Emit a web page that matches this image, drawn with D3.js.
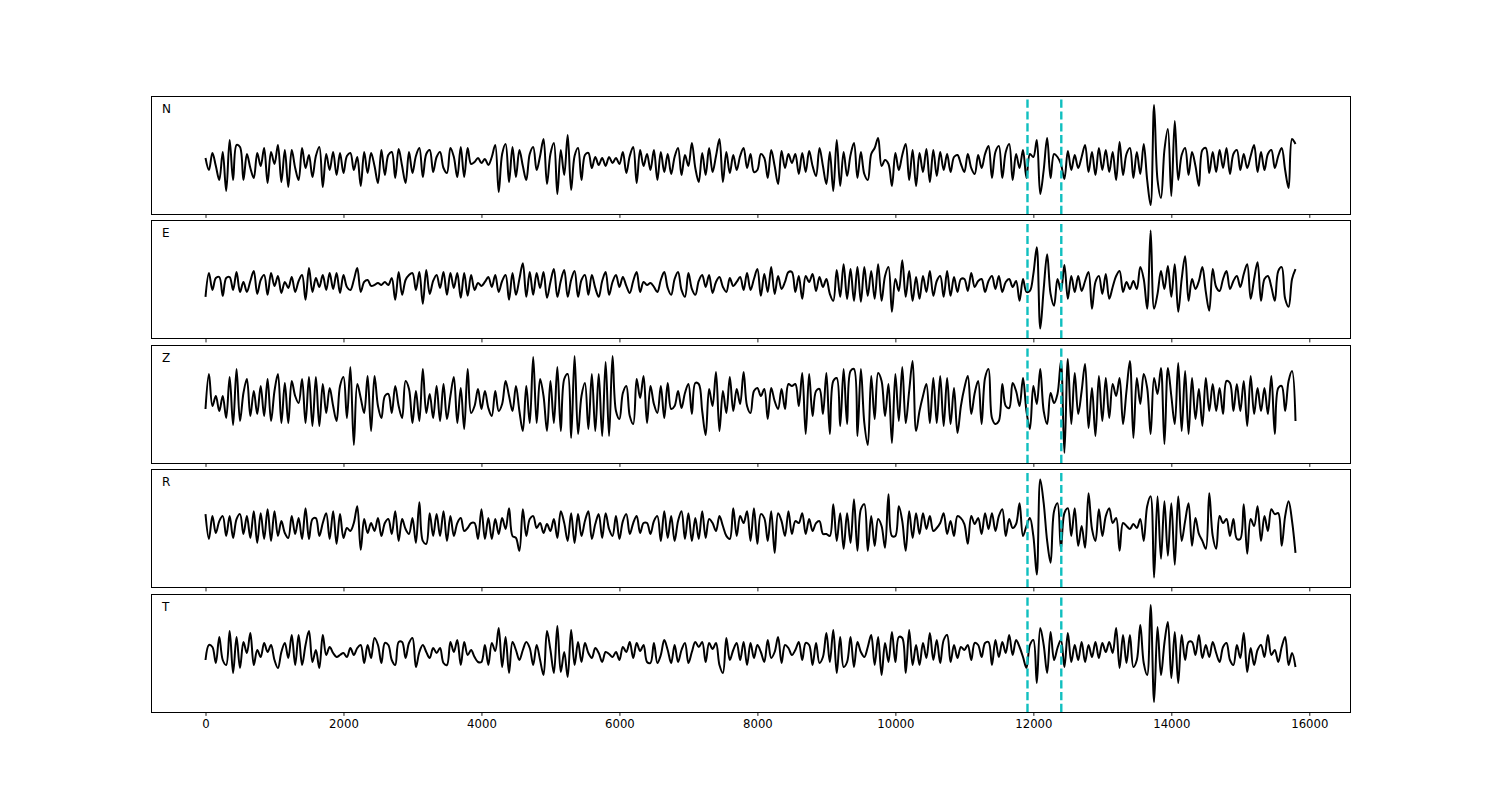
<!DOCTYPE html>
<html><head><meta charset="utf-8">
<script src="https://cdn.jsdelivr.net/npm/d3@7"></script>
<style>body{margin:0;background:#fff}svg{display:block}</style>
</head><body><svg id="chart" width="1500" height="800"></svg>
<script>
// ---- data (amplitudes, one sample every 50 points) ----
const sampleStep = 50;
const channels = ["N", "E", "Z", "R", "T"];
const traceN = [
2,-10,7,-6,-20,8,-31,20,-20,15,
13,-20,6,-8,-18,7,-6,12,-23,8,
-4,15,-22,10,-27,10,-8,-20,12,-8,
5,-17,4,13,-27,6,-10,8,-15,7,
-13,4,7,-10,3,-26,8,-13,7,-6,
-23,10,-15,5,8,-18,11,-6,-23,8,
-13,4,12,-17,6,10,-12,3,8,-8,
-13,12,3,-17,13,-17,12,-4,-2,2,
-3,1,-5,3,15,-32,6,16,-22,13,
-17,10,-6,-20,6,13,-10,4,21,-24,
6,17,-34,10,-15,25,-30,4,12,-20,
5,7,-8,3,-5,2,-6,3,-3,2,
-4,8,-13,4,13,-23,10,-6,6,-10,
10,-20,8,-12,6,-14,3,12,-15,5,
-6,17,-8,-22,7,-15,12,-12,4,21,
-22,8,-13,5,-10,4,12,-8,6,-12,
-10,6,2,-18,10,-6,-24,9,-8,6,
-3,6,-14,7,-12,9,-6,-16,12,-6,
-24,8,-31,20,-26,8,-16,5,17,-18,
8,-14,-20,6,12,22,-6,0,-4,-26,
7,-10,5,16,-20,10,-26,7,-12,11,
-22,10,-16,8,-10,6,-12,3,5,-4,
-12,6,-8,-14,5,-8,6,14,-18,8,
14,-18,8,16,-20,6,-8,10,-18,6,
3,20,-34,-10,22,-18,6,3,-4,-19,
9,-10,5,-8,3,15,-12,8,-15,12,
-10,10,-12,8,-20,18,-15,6,12,-18,
8,-14,16,-20,-45,55,-20,-38,10,31,
-36,39,-20,5,12,-15,8,-6,-26,10,
12,-13,8,-12,10,-8,12,-14,6,10,
-10,6,-8,4,15,-12,8,-10,6,10,
-8,4,12,-10,-28,21,16];
const traceE = [
-13,11,-6,6,7,-12,6,7,-6,12,
-8,2,-8,3,13,-10,4,9,-11,11,
-2,8,-9,2,-4,7,-8,3,9,-16,
16,-8,6,-3,9,-6,11,-5,11,-9,
9,-3,-6,4,16,-8,2,4,-2,-1,
1,-1,2,-1,6,-16,12,-11,4,9,
11,-6,12,-20,14,-10,3,9,-4,12,
-11,11,-4,11,-14,11,-12,9,-6,1,
-2,2,7,-3,9,-8,3,9,-16,11,
-11,5,21,-13,12,-11,11,-4,12,-14,
2,15,-13,3,14,-13,4,13,-13,4,
9,-11,9,-4,-13,3,12,-11,2,9,
-3,7,-2,-9,3,12,-8,2,-1,1,
-3,-8,4,12,-4,-11,5,12,-6,-13,
11,-5,-11,3,9,-3,9,-9,2,7,
-3,-8,6,-2,2,7,-6,11,-6,5,
15,-12,10,-8,17,-10,8,-5,2,12,
12,-8,8,-15,8,2,10,-7,7,-3,
5,-10,-17,14,-13,20,-15,15,-17,17,
-18,17,-12,13,-15,20,-17,8,17,-28,
5,-7,24,-13,13,-17,7,-15,8,-8,
13,-12,3,8,-13,13,-12,7,-8,5,
5,-7,11,-3,3,5,-8,3,8,-5,
8,-8,2,5,-3,3,-17,5,-8,-7,
10,37,-45,-5,30,-10,-22,5,-7,19,
-15,8,-8,8,-7,3,12,-25,2,8,
-10,10,-15,-3,8,13,-8,2,-5,3,
-5,17,5,-25,54,-25,-10,13,-5,18,
-13,20,-28,5,28,-17,5,-5,3,17,
-8,-27,15,-3,-7,5,13,-5,3,8,
-3,10,20,-15,5,22,-17,5,8,-3,
-17,13,17,-15,-23,5,15];
const traceZ = [
-8,27,-5,5,-10,5,-17,24,-24,32,
-20,8,22,-15,10,-13,15,-15,22,-20,
10,27,-22,18,-22,20,5,-2,22,-22,
24,-25,24,-25,17,-12,13,-5,-20,15,
24,-17,34,-44,17,3,-12,25,-30,25,
-5,-17,5,7,-12,15,-5,-17,20,12,
-22,10,-20,32,-12,7,-17,15,-20,17,
-18,5,24,-22,13,-28,32,-12,-5,12,
-8,10,-7,-15,10,-10,-3,20,5,-10,
15,-10,-30,15,-22,44,-22,22,5,-30,
20,-22,34,-30,22,27,-37,45,-33,5,
18,-28,27,-30,27,-35,39,-35,45,-10,
-18,8,15,-15,-23,22,3,25,-22,15,
-3,-12,15,-17,18,-8,-5,10,-7,8,
17,-13,18,17,-10,-34,12,-5,29,-30,
10,-12,24,-10,12,-3,29,-5,-12,10,
13,5,12,-18,13,0,-8,12,-8,17,
15,17,-5,28,-33,27,-15,10,12,-13,
28,-33,20,23,-25,32,-23,30,32,-35,
32,-22,-44,25,-18,28,20,-15,17,-42,
27,-20,34,-22,10,40,-30,-10,5,17,
-22,23,-22,25,-25,23,-23,13,-32,-5,
13,25,-13,8,20,-23,23,32,-17,-23,
-20,17,-5,-7,18,10,-5,23,-10,-28,
15,-3,32,-10,-23,8,-2,7,40,-52,
42,-23,28,-13,10,37,-27,13,-35,25,
-20,23,-17,17,5,23,-23,10,40,-37,
23,-3,27,13,-33,23,7,33,-43,33,
5,-23,38,-30,30,-33,23,-18,12,-25,
23,-10,17,-10,13,-13,20,18,-10,17,
-10,20,-25,25,-13,13,-10,13,-13,25,
-33,13,15,-10,20,30,-20];
const traceR = [
12,-13,10,-7,5,10,-10,10,-12,7,
12,-8,10,-12,15,-17,13,-13,17,-15,
15,-10,5,-7,-12,10,-8,8,-13,18,
-13,7,8,-10,3,13,-13,15,-18,12,
-12,-2,-5,3,20,-24,7,-7,3,-5,
8,-10,3,7,-8,15,-15,7,-3,-8,
8,-17,24,-15,-18,13,-10,12,-10,15,
-15,10,-10,3,8,-5,-2,3,3,-13,
17,-13,8,-13,7,-8,8,-3,18,-10,
-12,-25,17,-10,7,10,-2,3,-7,2,
-5,7,-12,15,3,-15,13,-17,12,-10,
5,15,-13,2,12,-12,13,-3,-10,10,
-13,5,12,-8,3,10,-7,3,3,-8,
5,10,-15,15,-12,10,-15,5,15,-13,
13,-15,8,-13,15,-12,7,3,-5,10,
0,-10,-13,18,-10,10,3,15,-15,18,
-18,12,8,-15,15,-27,13,5,-10,15,
-8,5,3,13,-8,7,-5,3,5,-8,
-8,-10,22,-15,13,-23,13,-17,27,-25,
17,22,-25,10,-20,7,0,-22,32,-10,
-10,20,5,-25,15,-12,13,-8,13,-3,
10,-5,-2,3,13,-8,5,-10,10,8,
2,-18,10,2,8,-8,13,-3,13,-5,
10,17,-10,7,-2,2,23,-10,0,8,
-10,-49,47,23,-15,-37,15,23,-23,13,
18,-10,18,-20,0,-22,33,-3,-15,17,
-10,10,18,3,8,-25,3,0,-3,2,
-2,7,-15,20,30,-52,30,-33,25,-30,
23,-39,30,-15,5,23,-20,8,-8,-15,
-23,33,-10,-23,10,3,7,-10,7,-13,
-13,22,-28,7,0,20,-15,10,-5,17,
12,13,-20,10,25,5,-27];
const traceT = [
-5,10,8,-8,18,-5,-10,24,-18,18,
-13,13,2,22,-10,5,-2,12,3,10,
-5,-13,3,12,-3,20,-10,20,-10,10,
24,-7,5,-13,20,0,8,2,-2,0,
2,-2,7,0,7,10,-8,10,-3,17,
10,-8,12,10,-5,-10,13,13,-3,12,
17,-12,3,10,3,-3,7,2,7,-8,
-10,13,3,15,-10,13,0,5,-2,-7,
-7,10,-10,12,4,27,-12,18,-18,13,
5,-5,5,13,7,-10,10,-5,-20,24,
5,-18,29,-17,3,-22,25,-10,13,-7,
12,2,-3,7,2,-7,3,1,-2,3,
-5,8,3,13,-3,12,4,10,-7,-8,
12,-8,0,15,5,-8,10,-7,5,12,
-8,3,13,8,13,-7,12,6,12,-10,
-18,17,-5,5,12,-5,13,-10,12,-3,
10,3,-7,15,-3,3,18,-8,10,7,
0,5,13,-5,12,10,-10,12,-8,-2,
22,-7,25,-18,18,-12,-7,18,-12,13,
3,-2,8,20,-10,18,-20,12,-7,23,
-7,18,17,-18,25,-10,10,-10,12,-3,
22,-5,15,-8,15,20,-7,10,-3,8,
5,10,-5,12,10,-2,12,13,-10,15,
-2,13,2,20,0,15,8,-2,-13,10,
15,-28,27,10,-18,23,-5,7,15,-12,
22,-7,10,-5,13,-7,10,-2,13,-3,
12,3,13,2,27,-13,20,-8,20,-12,
-5,30,-8,-20,50,-47,28,-20,12,33,
-23,23,-28,20,-5,13,13,0,20,-3,
10,-2,13,2,-7,8,12,-5,-10,10,
-3,22,-17,7,-10,5,10,-2,20,0,
5,-7,8,18,-10,2,-12];
const traces = [traceN, traceE, traceZ, traceR, traceT];
// y-limits of each panel (amplitude units)
const yLimits = [[-54, 64], [-55, 64], [-62, 56], [-62, 57], [-57, 61]];
const xLimits = [-790, 16590];
const xTicks = [0, 2000, 4000, 6000, 8000, 10000, 12000, 14000, 16000];
const pickTimes = [11915, 12405];

// ---- layout ----
const svg = d3.select("#chart");
const left = 151, right = 1350, top0 = 96, panelH = 118, pitch = 124.5;
const font = "DejaVu Sans, sans-serif";

const x = d3.scaleLinear().domain(xLimits).range([left, right]);

channels.forEach((name, i) => {
  const top = top0 + i * pitch;
  const y = d3.scaleLinear().domain(yLimits[i]).range([top + panelH, top]);
  const g = svg.append("g");

  const clipId = "clip" + i;
  svg.append("clipPath").attr("id", clipId).append("rect")
    .attr("x", left).attr("y", top).attr("width", right - left).attr("height", panelH);

  const data = traces[i].map((v, k) => ({t: k * sampleStep, v}));
  const line = d3.line().x(d => x(d.t)).y(d => y(d.v)).curve(d3.curveCatmullRom.alpha(0.5));

  g.append("path").datum(data)
    .attr("clip-path", `url(#${clipId})`)
    .attr("d", line).attr("fill", "none")
    .attr("stroke", "#000").attr("stroke-width", 2)
    .attr("stroke-linejoin", "round");

  pickTimes.forEach(pt => {
    g.append("line")
      .attr("x1", x(pt)).attr("x2", x(pt))
      .attr("y1", top + panelH).attr("y2", top)
      .attr("stroke", "#10bfbf").attr("stroke-width", 2.4)
      .attr("stroke-dasharray", "8.2,3.6");
  });

  g.append("rect").attr("x", left).attr("y", top)
    .attr("width", right - left).attr("height", panelH)
    .attr("fill", "none").attr("stroke", "#000").attr("stroke-width", 1)
    .attr("shape-rendering", "crispEdges");

  const axis = d3.axisBottom(x).tickValues(xTicks).tickSizeOuter(0)
    .tickSize(3.9).tickPadding(3.9).tickFormat(d3.format("d"));
  if (i < channels.length - 1) axis.tickFormat("");
  const ax = svg.append("g").attr("transform", `translate(0,${top + panelH})`).call(axis);
  ax.select(".domain").remove();
  ax.selectAll(".tick line").attr("stroke", "#000").attr("stroke-width", 0.9);
  ax.selectAll(".tick text").attr("font-family", font).attr("font-size", "11.7px").attr("fill", "#000");

  svg.append("text").attr("x", 162).attr("y", top + 16.8)
    .attr("font-family", font).attr("font-size", "12px").attr("fill", "#000")
    .text(name);
});
</script>
</body></html>
